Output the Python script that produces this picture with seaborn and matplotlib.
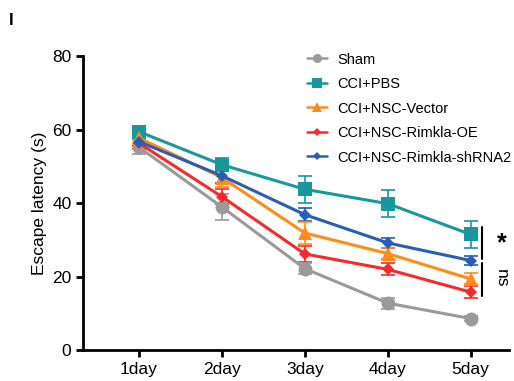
import numpy as np
import pandas as pd
import matplotlib
matplotlib.use("Agg")
import matplotlib.pyplot as plt
import seaborn as sns

# data
days = ["1day", "2day", "3day", "4day", "5day"]
groups = ["Sham", "CCI+PBS", "CCI+NSC-Vector", "CCI+NSC-Rimkla-OE", "CCI+NSC-Rimkla-shRNA2"]
sham = [55.3, 39.0, 22.2, 12.8, 8.6]
pbs = [59.5, 50.5, 43.8, 39.9, 31.5]
vector = [57.8, 47.0, 31.9, 26.3, 19.4]
oe = [56.4, 41.8, 26.2, 22.0, 15.8]
shrna = [56.8, 47.5, 36.9, 29.2, 24.4]
sham_err = [2.0, 3.5, 1.6, 1.5, 0.6]
pbs_err = [1.2, 1.8, 3.7, 3.6, 3.6]
vector_err = [1.5, 2.5, 3.0, 1.6, 1.5]
oe_err = [1.6, 2.0, 2.2, 1.6, 1.6]
shrna_err = [1.2, 2.0, 1.8, 1.4, 1.3]

colors = ["#9a9a9a", "#17989c", "#ff8c1a", "#f52a2a", "#2a5db5"]
markers = ["o", "s", "^", "D", "D"]
msizes = [10, 10, 10, 6.5, 6.5]

means = [sham, pbs, vector, oe, shrna]
errs = [sham_err, pbs_err, vector_err, oe_err, shrna_err]

rows = []
for g, m, e in zip(groups, means, errs):
    for i, d in enumerate(days):
        rows.append({"group": g, "day": i + 1, "latency": m[i], "err": e[i]})
df = pd.DataFrame(rows)

sns.set_style("ticks")
plt.rcParams["font.family"] = ["Liberation Sans", "DejaVu Sans"]
plt.rcParams["text.color"] = "black"
plt.rcParams["axes.labelcolor"] = "black"
plt.rcParams["xtick.color"] = "black"
plt.rcParams["ytick.color"] = "black"

fig = plt.figure(figsize=(5.14, 3.81), dpi=100)
ax = fig.add_axes([0.162, 0.081, 0.828, 0.771])

order = [1, 4, 2, 3, 0]
for k in order:
    sub = df[df["group"] == groups[k]]
    ax.errorbar(sub["day"], sub["latency"], yerr=sub["err"], fmt="none",
                ecolor=colors[k], elinewidth=1.2, capsize=5, capthick=1.2, zorder=2)
sns.lineplot(data=df, x="day", y="latency", hue="group", style="group",
             hue_order=groups, style_order=groups,
             palette=colors, markers=markers, dashes=False,
             linewidth=2.2, markeredgewidth=0, ax=ax, legend=False, zorder=3)
for line, k in zip(ax.get_lines()[-len(groups):], range(len(groups))):
    line.set_markersize(msizes[k])

# legend
handles = [plt.Line2D([], [], color=colors[k], marker=markers[k],
                      markersize=msizes[k] * 0.65, markeredgewidth=0, linewidth=1.8)
           for k in range(len(groups))]
fig.legend(handles, groups, loc="upper left", bbox_to_anchor=(0.597, 0.862),
           frameon=False, fontsize=10.5, handlelength=1.35, labelspacing=0.72,
           handletextpad=0.75, borderpad=0, borderaxespad=0)

ax.set_xlim(0.33, 5.46)
ax.set_ylim(0, 80)
ax.set_xticks(range(1, 6))
ax.set_xticklabels(days)
ax.set_yticks([0, 20, 40, 60, 80])
ax.set_xlabel("")
ax.set_ylabel("Escape latency (s)", fontsize=12.5)
ax.tick_params(labelsize=12.5, width=2, length=5)
for s in ["left", "bottom"]:
    ax.spines[s].set_linewidth(2)
    ax.spines[s].set_color("black")
sns.despine(ax=ax)

# significance brackets
ax.plot([5.14, 5.14], [24.8, 33.5], color="black", lw=1.5, clip_on=False)
ax.plot([5.14, 5.14], [14.7, 23.8], color="black", lw=1.5, clip_on=False)
ax.text(5.37, 29.2, "*", fontsize=18, ha="center", va="center", fontweight="bold")
ax.text(5.37, 19.5, "ns", fontsize=12.5, ha="center", va="center", rotation=-90)

fig.text(0.018, 0.935, "I", fontsize=12, fontweight="bold")

fig.savefig("out.png", dpi=100)
